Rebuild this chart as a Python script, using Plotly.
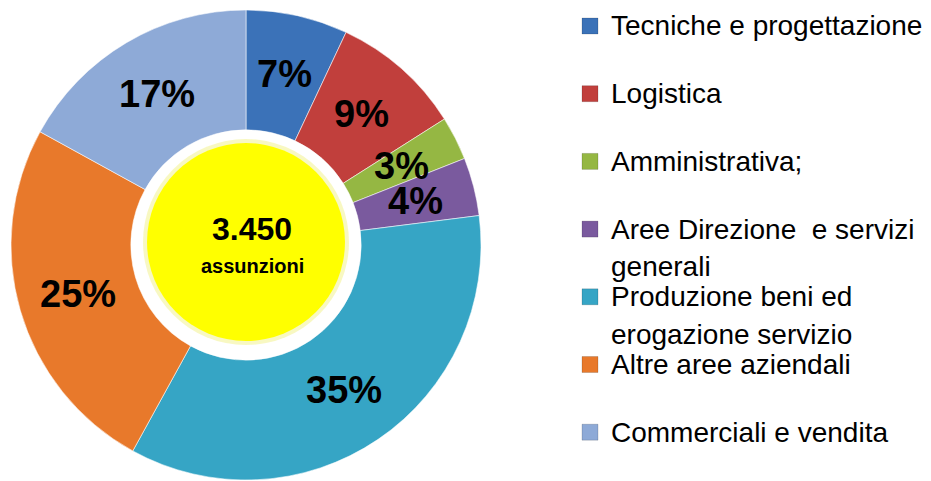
import math
import plotly.graph_objects as go

# page body has an 8px margin: size the figure so it fits the 931x481 window
OFF = 8
W, H = 931 - OFF, 481 - OFF

categories = [
    "Tecniche e progettazione",
    "Logistica",
    "Amministrativa;",
    "Aree Direzione  e servizi<br>generali",
    "Produzione beni ed<br>erogazione servizio",
    "Altre aree aziendali",
    "Commerciali e vendita",
]
values = [7, 9, 3, 4, 35, 25, 17]
colors = ["#3b72b8", "#c13f3c", "#95b743", "#7a5a9e", "#36a5c5", "#e8792b", "#8eaad7"]
total_label = "3.450"
total_sub = "assunzioni"

# pie geometry (window pixels)
cx, cy, R = 246, 245, 235
hole = 0.49

def px_x(x):
    return (x - OFF) / W

def px_y(y):
    return 1 - (y - OFF) / H

fig = go.Figure()
fig.add_trace(go.Pie(
    labels=[c.replace("<br>", " ") for c in categories],
    values=values,
    sort=False,
    direction="clockwise",
    rotation=0,
    hole=hole,
    textinfo="none",
    hoverinfo="label+percent",
    marker=dict(colors=colors, line=dict(color="rgba(255,255,255,0.55)", width=1)),
    domain=dict(x=[px_x(cx - R), px_x(cx + R)], y=[px_y(cy + R), px_y(cy - R)]),
    showlegend=False,
))

annotations = []
shapes = []

# percentage labels at mid-ring, mid-angle
tot = sum(values)
cum = 0
r_lab = R * (1 + hole) / 2
for v in values:
    mid = (cum + v / 2) / tot * 2 * math.pi
    cum += v
    x = cx + r_lab * math.sin(mid)
    y = cy - r_lab * math.cos(mid)
    annotations.append(dict(
        x=px_x(x), y=px_y(y), xref="paper", yref="paper",
        text=f"{round(v / tot * 100)}%", showarrow=False,
        font=dict(family="Liberation Sans", size=38, color="black", weight="bold"),
        xanchor="center", yanchor="middle",
    ))

# yellow centre disc
ycx, ycy, yr = 246, 242, 99
shapes.append(dict(type="circle", xref="paper", yref="paper",
                   x0=px_x(ycx - yr - 4), x1=px_x(ycx + yr + 4),
                   y0=px_y(ycy + yr + 4), y1=px_y(ycy - yr - 4),
                   fillcolor="rgba(240,240,120,0.45)", line=dict(width=0), layer="below"))
shapes.append(dict(type="circle", xref="paper", yref="paper",
                   x0=px_x(ycx - yr), x1=px_x(ycx + yr),
                   y0=px_y(ycy + yr), y1=px_y(ycy - yr),
                   fillcolor="#ffff00", line=dict(width=0), layer="below"))
annotations.append(dict(x=px_x(252), y=px_y(229), xref="paper", yref="paper",
                        text=total_label, showarrow=False, xanchor="center", yanchor="middle",
                        font=dict(family="Liberation Sans", size=32, color="black", weight="bold")))
annotations.append(dict(x=px_x(252), y=px_y(266), xref="paper", yref="paper",
                        text=total_sub, showarrow=False, xanchor="center", yanchor="middle",
                        font=dict(family="Liberation Sans", size=20, color="black", weight="bold")))

# legend (drawn manually for spacing control)
leg_top, leg_step, line_step = 26, 67.7, 37.5
for i, (lab, col) in enumerate(zip(categories, colors)):
    y0 = leg_top + i * leg_step
    shapes.append(dict(type="rect", xref="paper", yref="paper",
                       x0=px_x(582), x1=px_x(598), y0=px_y(y0 + 8), y1=px_y(y0 - 8),
                       fillcolor=col, line=dict(color="rgba(0,0,0,0.15)", width=1)))
    for j, part in enumerate(lab.split("<br>")):
        annotations.append(dict(x=px_x(609), y=px_y(y0 + j * line_step), xref="paper", yref="paper",
                                text=part, showarrow=False, xanchor="left", yanchor="middle",
                                font=dict(family="Liberation Sans", size=28, color="black")))

fig.update_layout(
    width=W, height=H,
    margin=dict(l=0, r=0, t=0, b=0),
    paper_bgcolor="white", plot_bgcolor="white",
    annotations=annotations, shapes=shapes,
)
fig.write_html("out.html")
